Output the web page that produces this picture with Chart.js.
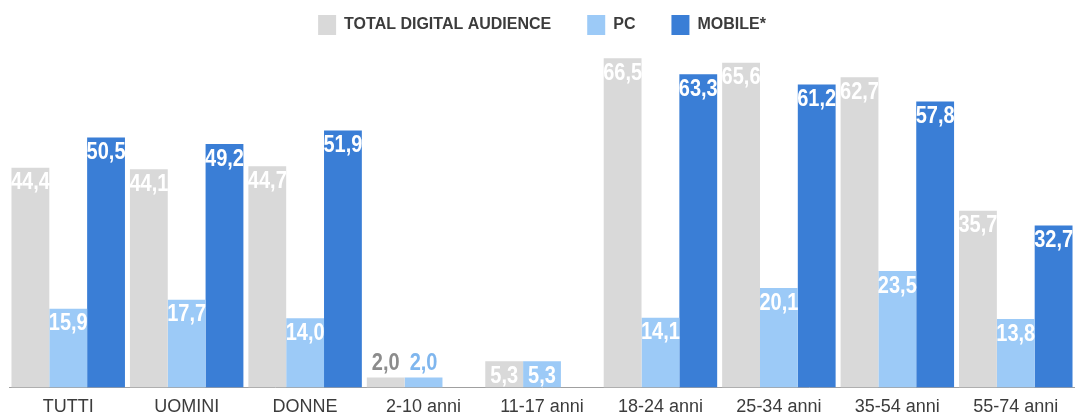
<!DOCTYPE html>
<html>
<head>
<meta charset="utf-8">
<script src="https://cdn.jsdelivr.net/npm/chart.js@4/dist/chart.umd.min.js"></script>
<style>
  html, body { margin: 0; padding: 0; background: #fff; }
  #wrap { position: relative; width: 1075px; height: 416px; }
</style>
</head>
<body>
<div id="wrap"><canvas id="c"></canvas></div>
<script>
// categorie e valori (%)
var categories = ["TUTTI", "UOMINI", "DONNE", "2-10 anni", "11-17 anni", "18-24 anni", "25-34 anni", "35-54 anni", "55-74 anni"];
var totalDigital = [44.4, 44.1, 44.7, 2.0, 5.3, 66.5, 65.6, 62.7, 35.7];
var pcValues = [15.9, 17.7, 14.0, 2.0, 5.3, 14.1, 20.1, 23.5, 13.8];
var mobileValues = [50.5, 49.2, 51.9, null, null, 63.3, 61.2, 57.8, 32.7];
var seriesNames = ["TOTAL DIGITAL AUDIENCE", "PC", "MOBILE*"];

var COLORS = ["#d9d9d9", "#9ccaf7", "#3a7ed6"];
var OUT_COLORS = ["#8c8c8c", "#7fb6ee", "#3a7ed6"];

function _fmt(v) { return v.toFixed(1).replace(".", ","); }

// etichette dei valori sopra/dentro le barre
var valueLabels = {
  id: "valueLabels",
  afterDatasetsDraw: function(chart) {
    var ctx = chart.ctx;
    ctx.save();
    ctx.font = "bold 20px 'Liberation Sans', Arial, sans-serif";
    ctx.textAlign = "center";
    chart.data.datasets.forEach(function(ds, di) {
      var meta = chart.getDatasetMeta(di);
      meta.data.forEach(function(bar, i) {
        var v = ds.data[i];
        if (v == null) return;
        var h = bar.base - bar.y;
        var txt = _fmt(v);
        ctx.save();
        if (h < 22) {
          ctx.fillStyle = OUT_COLORS[di];
          ctx.textBaseline = "bottom";
          ctx.translate(bar.x, bar.y - 2);
        } else {
          ctx.fillStyle = "#ffffff";
          ctx.textBaseline = "top";
          ctx.translate(bar.x, bar.y + 3);
        }
        ctx.scale(1, 1.2);
        ctx.fillText(txt, 0, 0);
        ctx.restore();
      });
    });
    ctx.restore();
  }
};

new Chart(document.getElementById("c").getContext("2d"), {
  type: "bar",
  data: {
    labels: categories,
    datasets: [
      { label: seriesNames[0], data: totalDigital, backgroundColor: COLORS[0] },
      { label: seriesNames[1], data: pcValues, backgroundColor: COLORS[1] },
      { label: seriesNames[2], data: mobileValues, backgroundColor: COLORS[2] }
    ]
  },
  options: {
    responsive: true,
    maintainAspectRatio: false,
    animation: false,
    layout: { padding: { top: -21, left: 9, right: 0, bottom: -11 } },
    datasets: { bar: { categoryPercentage: 0.958, barPercentage: 1.0 } },
    plugins: {
      legend: {
        display: true,
        position: "top",
        labels: {
          boxWidth: 18,
          boxHeight: 20,
          padding: 36,
          color: "#3c3c3c",
          font: { family: "'Liberation Sans', Arial, sans-serif", size: 16, weight: "bold" }
        }
      },
      tooltip: { enabled: false }
    },
    scales: {
      x: {
        grid: { display: false, drawTicks: false },
        border: { display: true, color: "#a0a0a0", width: 1 },
        ticks: {
          padding: 9,
          color: "#3c3c3c",
          maxRotation: 0,
          autoSkip: false,
          font: { family: "'Liberation Sans', Arial, sans-serif", size: 18 }
        }
      },
      y: {
        display: false,
        min: 0,
        max: 69.2
      }
    }
  },
  plugins: [valueLabels]
});
</script>
</body>
</html>
